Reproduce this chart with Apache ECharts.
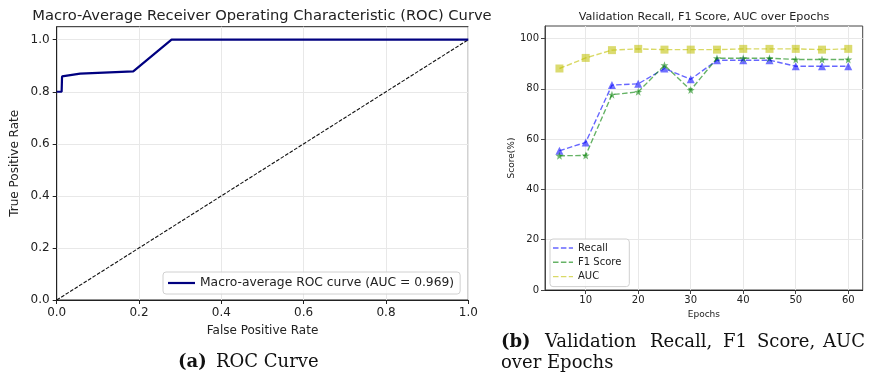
<!DOCTYPE html>
<html><head><meta charset="utf-8">
<script src="https://cdn.jsdelivr.net/npm/echarts@6/dist/echarts.min.js"></script>
<style>html,body{margin:0;padding:0;background:#fff}#c{width:870px;height:375px}</style>
</head><body><div id="c"></div>
<script>
// ROC curve (left)
const rocFpr = [0, 0.012, 0.013, 0.057, 0.186, 0.279, 1.0];
const rocTpr = [0.80, 0.80, 0.859, 0.870, 0.878, 1.0, 1.0];
const diagX = [0, 1];
const diagY = [0, 1];
const rocTicks = [0, 0.2, 0.4, 0.6, 0.8, 1.0];
// Validation metrics (right)
const epochs = [5, 10, 15, 20, 25, 30, 35, 40, 45, 50, 55, 60];
const recall = [55.4, 58.7, 81.5, 82.0, 88.1, 83.8, 91.4, 91.4, 91.4, 89.0, 89.0, 89.0];
const f1 = [53.4, 53.5, 77.7, 78.8, 89.4, 79.5, 92.2, 92.2, 92.2, 91.7, 91.7, 91.7];
const auc = [88.1, 92.3, 95.4, 95.9, 95.6, 95.6, 95.6, 95.9, 95.9, 95.9, 95.6, 95.9];
const epochTicks = [10, 20, 30, 40, 50, 60];
const scoreTicks = [0, 20, 40, 60, 80, 100];

const zip = (a, b) => a.map((v, i) => [v, b[i]]);
const star = 'path://M0,-10L2.35,-3.24L9.51,-3.09L3.8,1.24L5.88,8.09L0,4L-5.88,8.09L-3.8,1.24L-9.51,-3.09L-2.35,-3.24Z';
const solidIcon = 'path://M0,0H27V2H0Z';
const dashIcon = 'path://M0,0H5.5V1.4H0ZM7.9,0H13.4V1.4H7.9ZM15.8,0H20V1.4H15.8Z';
const FONT = 'DejaVu Sans';
const SERIF = 'DejaVu Serif';
const TXT = '#222';

const chart = echarts.init(document.getElementById('c'), null, {renderer: 'canvas'});
const axisCommon = (fs) => ({
  axisLine: {show: true, onZero: false, lineStyle: {color: '#222', width: 1}},
  axisTick: {show: true, length: 4, lineStyle: {color: '#222'}},
  axisLabel: {color: TXT, fontFamily: FONT, fontSize: fs, margin: 6},
  splitLine: {show: true, lineStyle: {color: '#e8e8e8', width: 1}},
  nameTextStyle: {color: TXT, fontFamily: FONT}
});
const cap = (text, x, y, bold) => ({type: 'text', style: {text: text, x: x, y: y, fontFamily: SERIF, fontSize: 18,
  fontWeight: bold ? 'bold' : 'normal', fill: '#111', verticalAlign: 'middle'}});
chart.setOption({
  animation: false,
  title: [
    {text: 'Macro-Average Receiver Operating Characteristic (ROC) Curve', left: 257, top: 4, textAlign: 'center',
     textStyle: {fontFamily: FONT, fontSize: 14.7, fontWeight: 'normal', color: TXT}},
    {text: 'Validation Recall, F1 Score, AUC over Epochs', left: 699, top: 7, textAlign: 'center',
     textStyle: {fontFamily: FONT, fontSize: 11.2, fontWeight: 'normal', color: TXT}}
  ],
  grid: [
    {left: 56.7, top: 26.7, width: 411.6, height: 273.3, show: true, borderColor: '#222', borderWidth: 1, backgroundColor: 'transparent'},
    {left: 545, top: 26, width: 317.7, height: 264, show: true, borderColor: '#444', borderWidth: 1, backgroundColor: 'transparent'}
  ],
  xAxis: [
    Object.assign(axisCommon(12), {type: 'value', gridIndex: 0, min: 0, max: 1, interval: 0.2,
      name: 'False Positive Rate', nameLocation: 'middle', nameGap: 25, nameTextStyle: {color: TXT, fontFamily: FONT, fontSize: 12},
      axisLabel: {color: TXT, fontFamily: FONT, fontSize: 12, margin: 7, formatter: v => v.toFixed(1)}}),
    Object.assign(axisCommon(10), {type: 'value', gridIndex: 1, min: 2.25, max: 62.75, interval: 10,
      name: 'Epochs', nameLocation: 'middle', nameGap: 20, nameTextStyle: {color: TXT, fontFamily: FONT, fontSize: 9},
      axisTick: {show: true, length: 4, lineStyle: {color: '#444'}, customValues: epochTicks},
      axisLabel: {color: TXT, fontFamily: FONT, fontSize: 10, margin: 5, customValues: epochTicks},
      splitLine: {show: true, lineStyle: {color: '#e8e8e8'}, customValues: epochTicks}})
  ],
  yAxis: [
    Object.assign(axisCommon(12), {type: 'value', gridIndex: 0, min: 0, max: 1.05, interval: 0.2,
      name: 'True Positive Rate', nameLocation: 'middle', nameGap: 36, nameRotate: 90, nameTextStyle: {color: TXT, fontFamily: FONT, fontSize: 12},
      axisTick: {show: true, length: 4, lineStyle: {color: '#222'}, customValues: rocTicks},
      axisLabel: {color: TXT, fontFamily: FONT, fontSize: 12, margin: 7, customValues: rocTicks, formatter: v => v.toFixed(1)},
      splitLine: {show: true, lineStyle: {color: '#e8e8e8'}, customValues: rocTicks}}),
    Object.assign(axisCommon(10), {type: 'value', gridIndex: 1, min: 0, max: 105, interval: 20,
      name: 'Score(%)', nameLocation: 'middle', nameGap: 27, nameRotate: 90, nameTextStyle: {color: TXT, fontFamily: FONT, fontSize: 9},
      axisLine: {show: true, lineStyle: {color: '#444'}},
      axisTick: {show: true, length: 4, lineStyle: {color: '#444'}, customValues: scoreTicks},
      axisLabel: {color: TXT, fontFamily: FONT, fontSize: 10, margin: 6, customValues: scoreTicks},
      splitLine: {show: true, lineStyle: {color: '#e8e8e8'}, customValues: scoreTicks}})
  ],
  legend: [
    {data: [{name: 'Macro-average ROC curve (AUC = 0.969)', icon: solidIcon}], left: 163, top: 272, orient: 'vertical',
     padding: [5, 6, 5, 5], itemWidth: 27, itemHeight: 2.2, itemGap: 8, symbolKeepAspect: false,
     backgroundColor: 'rgba(255,255,255,0.8)', borderColor: '#d0d0d0', borderWidth: 1, borderRadius: 3,
     textStyle: {fontFamily: FONT, fontSize: 12.3, color: TXT}},
    {data: [{name: 'Recall', icon: dashIcon}, {name: 'F1 Score', icon: dashIcon}, {name: 'AUC', icon: dashIcon}],
     left: 550, top: 239, orient: 'vertical',
     padding: [4, 8, 5, 3], itemWidth: 20, itemHeight: 1.4, itemGap: 4.3, symbolKeepAspect: false,
     backgroundColor: 'rgba(255,255,255,0.8)', borderColor: '#d0d0d0', borderWidth: 1, borderRadius: 3,
     textStyle: {fontFamily: FONT, fontSize: 10, color: TXT}}
  ],
  series: [
    {name: 'diag', type: 'line', xAxisIndex: 0, yAxisIndex: 0, data: zip(diagX, diagY), symbol: 'none',
     lineStyle: {color: '#111', width: 1.1, type: [3.7, 1.6]}, z: 3},
    {name: 'Macro-average ROC curve (AUC = 0.969)', type: 'line', xAxisIndex: 0, yAxisIndex: 0, data: zip(rocFpr, rocTpr),
     symbol: 'none', lineStyle: {color: '#000080', width: 2.2}, itemStyle: {color: '#000080'}, z: 4},
    {name: 'Recall', type: 'line', xAxisIndex: 1, yAxisIndex: 1, data: zip(epochs, recall), symbol: 'none',
     lineStyle: {color: 'rgba(0,0,255,0.6)', width: 1.4, type: [5.5, 2.4]}, itemStyle: {color: 'rgba(0,0,255,0.6)'}},
    {name: 'F1 Score', type: 'line', xAxisIndex: 1, yAxisIndex: 1, data: zip(epochs, f1), symbol: 'none',
     lineStyle: {color: 'rgba(0,128,0,0.6)', width: 1.4, type: [5.5, 2.4]}, itemStyle: {color: 'rgba(0,128,0,0.6)'}},
    {name: 'AUC', type: 'line', xAxisIndex: 1, yAxisIndex: 1, data: zip(epochs, auc), symbol: 'none',
     lineStyle: {color: 'rgba(191,191,0,0.6)', width: 1.4, type: [5.5, 2.4]}, itemStyle: {color: 'rgba(191,191,0,0.6)'}},
    {name: 'recallPts', type: 'scatter', xAxisIndex: 1, yAxisIndex: 1, data: zip(epochs, recall), symbol: 'triangle', symbolSize: 8,
     itemStyle: {color: 'rgba(0,0,255,0.7)'}},
    {name: 'f1Pts', type: 'scatter', xAxisIndex: 1, yAxisIndex: 1, data: zip(epochs, f1), symbol: star, symbolSize: 8,
     itemStyle: {color: 'rgba(0,128,0,0.7)'}},
    {name: 'aucPts', type: 'scatter', xAxisIndex: 1, yAxisIndex: 1, data: zip(epochs, auc), symbol: 'rect', symbolSize: 8,
     itemStyle: {color: 'rgba(191,191,0,0.7)'}}
  ],
  graphic: [
    cap('(a)', 178, 362, true), cap('ROC Curve', 216, 362),
    cap('(b)', 501, 342, true), cap('Validation', 545, 342), cap('Recall,', 650, 342),
    cap('F1', 723, 342), cap('Score,', 757, 342), cap('AUC', 823, 342),
    cap('over Epochs', 501, 363)
  ]
});
</script></body></html>
